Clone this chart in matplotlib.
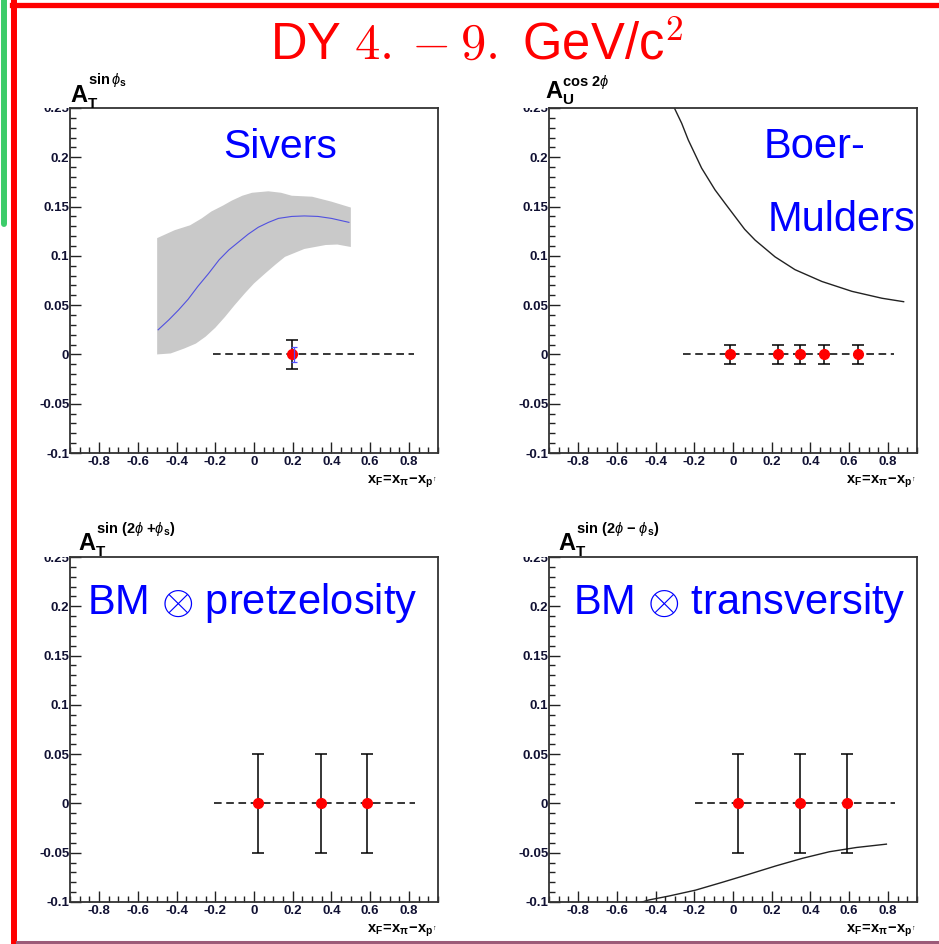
#!/usr/bin/env python3

import numpy as np
import matplotlib
matplotlib.use('Agg')
from matplotlib import pyplot as plt
from matplotlib.lines import Line2D
from matplotlib.ticker import MultipleLocator
from matplotlib.transforms import Bbox, TransformedBbox

plt.rcParams['font.family'] = ['Liberation Sans', 'DejaVu Sans']
plt.rcParams['mathtext.fontset'] = 'custom'
plt.rcParams['mathtext.rm'] = 'Liberation Sans'
plt.rcParams['mathtext.bf'] = 'Liberation Sans:bold'
plt.rcParams['mathtext.it'] = 'Liberation Sans:italic'
plt.rcParams['mathtext.sf'] = 'Liberation Sans'

W, H = 939, 944

XTICKS = [-0.8, -0.6, -0.4, -0.2, 0, 0.2, 0.4, 0.6, 0.8]
XTICK_LABELS = ['-0.8', '-0.6', '-0.4', '-0.2', '0', '0.2', '0.4', '0.6', '0.8']
YTICKS = [-0.1, -0.05, 0, 0.05, 0.1, 0.15, 0.2, 0.25]
YTICK_LABELS = ['-0.1', '-0.05', '0', '0.05', '0.1', '0.15', '0.2', '0.25']

# Sivers band (upper / lower edges) and central curve
SIVERS_HI_X = [-0.5, -0.41, -0.33, -0.27, -0.22, -0.16, -0.115, -0.06, -0.01, 0.074, 0.14, 0.195, 0.3, 0.4, 0.5]
SIVERS_HI_Y = [0.118, 0.126, 0.131, 0.138, 0.145, 0.151, 0.156, 0.161, 0.164, 0.1655, 0.164, 0.161, 0.160, 0.155, 0.149]
SIVERS_LO_X = [-0.5, -0.43, -0.36, -0.3, -0.25, -0.2, -0.15, -0.1, -0.047, 0.0, 0.057, 0.11, 0.16, 0.26, 0.37, 0.43, 0.5]
SIVERS_LO_Y = [0.0, 0.001, 0.006, 0.011, 0.018, 0.027, 0.038, 0.050, 0.062, 0.072, 0.082, 0.091, 0.099, 0.107, 0.111, 0.1115, 0.109]
SIVERS_FIT_X = [-0.495, -0.44, -0.39, -0.34, -0.29, -0.235, -0.18, -0.13, -0.08, -0.03, 0.022, 0.075, 0.126, 0.195, 0.26, 0.33, 0.4, 0.49]
SIVERS_FIT_Y = [0.025, 0.035, 0.045, 0.056, 0.069, 0.082, 0.096, 0.106, 0.114, 0.122, 0.129, 0.134, 0.138, 0.140, 0.1405, 0.140, 0.138, 0.134]
SIVERS_PT_X = [0.195]
SIVERS_PT_Y = [0.0]
SIVERS_PT_ERR = [0.015]
SIVERS_BLUE_X = [0.207]
SIVERS_BLUE_ERR = [0.008]
SIVERS_LINE = [-0.21, 0.824]

# Boer-Mulders curve and projected points
BM_X = [-0.31, -0.265, -0.231, -0.162, -0.093, -0.04, 0.01, 0.06, 0.114, 0.217, 0.32, 0.459, 0.614, 0.769, 0.881]
BM_Y = [0.253, 0.2345, 0.2176, 0.189, 0.167, 0.153, 0.14, 0.127, 0.116, 0.099, 0.086, 0.074, 0.064, 0.057, 0.0535]
BM_PT_X = [-0.014, 0.234, 0.348, 0.472, 0.643]
BM_PT_Y = [0.0, 0.0, 0.0, 0.0, 0.0]
BM_PT_ERR = [0.01, 0.01, 0.01, 0.01, 0.01]
BM_LINE = [-0.257, 0.829]

# BM x pretzelosity
PRETZ_PT_X = [0.022, 0.346, 0.585]
PRETZ_PT_Y = [0.0, 0.0, 0.0]
PRETZ_PT_ERR = [0.05, 0.05, 0.05]
PRETZ_LINE = [-0.207, 0.83]

# BM x transversity
TRANS_X = [-0.5, -0.436, -0.332, -0.194, -0.055, 0.083, 0.221, 0.36, 0.498, 0.637, 0.792]
TRANS_Y = [-0.102, -0.098, -0.094, -0.088, -0.080, -0.0718, -0.0634, -0.0556, -0.049, -0.0447, -0.0413]
TRANS_PT_X = [0.024, 0.348, 0.588]
TRANS_PT_Y = [0.0, 0.0, 0.0]
TRANS_PT_ERR = [0.05, 0.05, 0.05]
TRANS_LINE = [-0.197, 0.836]


def px(x, y):
  return x / W, 1.0 - y / H


def make_axes(fig, left, top, right, bottom):
  x0, y0 = px(left, bottom)
  x1, y1 = px(right, top)
  ax = fig.add_axes([x0, y0, x1 - x0, y1 - y0])
  ax.set_xlim(-0.95, 0.95)
  ax.set_ylim(-0.1, 0.25)
  ax.set_xticks(XTICKS)
  ax.set_xticklabels(XTICK_LABELS, fontweight='bold', fontsize=9.5, color='#111133')
  ax.set_yticks(YTICKS)
  ax.set_yticklabels(YTICK_LABELS, fontweight='bold', fontsize=9.5, color='#111133')
  ax.xaxis.set_minor_locator(MultipleLocator(0.05))
  ax.yaxis.set_minor_locator(MultipleLocator(0.01))
  ax.tick_params(which='both', direction='in', top=False, right=False, color='#222222')
  ax.tick_params(which='major', length=8, width=1.0)
  ax.tick_params(which='minor', length=4, width=1.0)
  ax.tick_params(axis='y', pad=0.5)
  ax.tick_params(axis='x', pad=2)
  for sp in ax.spines.values():
    sp.set_linewidth(1.3)
    sp.set_color('#333333')
  # ROOT clips the top label at the frame
  clip = TransformedBbox(Bbox([[-0.5, -0.5], [1.5, 1.0]]), ax.transAxes)
  for lab in ax.get_yticklabels():
    lab.set_clip_box(clip)
    lab.set_clip_on(True)
  ax.text(1.0, -0.06, r'$\mathbf{x_F\!=\!x_\pi\!-\!x_{p^\uparrow}}$', transform=ax.transAxes,
          ha='right', va='top', fontsize=10.5)
  return ax


def ylabel(fig, left, base, sup_base, sub, sup):
  fig.text(*px(left, base), 'A', fontsize=17, fontweight='bold', ha='left', va='baseline')
  fig.text(*px(left + 17.5, base + 6), sub, fontsize=11, fontweight='bold', ha='left', va='baseline')
  fig.text(*px(left + 17.5, sup_base), sup, fontsize=10.5, ha='left', va='baseline')


def points(ax, x, y, err, line):
  ax.plot(line, [0, 0], color='black', lw=1.1, ls=(0, (5, 3)), zorder=2)
  ax.errorbar(x, y, yerr=err, fmt='o', color='red', markersize=7, ecolor='black',
              elinewidth=1.1, capsize=4, capthick=1.1, zorder=3)


def main():
  fig = plt.figure(figsize=(W / 100, H / 100), dpi=100)

  # slide decorations
  fig.add_artist(Line2D([12 / W, 1], [1 - 4.5 / H] * 2, color='#ff0000', lw=3.8))
  fig.add_artist(Line2D([14 / W] * 2, [0, 1 - 2 / H], color='#ff0000', lw=4.3))
  fig.add_artist(Line2D([4 / W] * 2, [1 - 224 / H, 1], color='#3ccc6a', lw=4.3, solid_capstyle='round'))
  fig.add_artist(Line2D([17 / W, 1], [1 - 942 / H] * 2, color='#9c5a78', lw=2.2))

  tx, ty = px(477, 60)
  fig.text(tx, ty, r'DY $4.-9.$ GeV/c$^2$', color='#ff0000', fontsize=36.5,
           ha='center', va='baseline', math_fontfamily='cm')

  # Sivers
  ax1 = make_axes(fig, 70, 108, 438, 453)
  band_x = np.concatenate([SIVERS_HI_X, SIVERS_LO_X[::-1]])
  band_y = np.concatenate([SIVERS_HI_Y, SIVERS_LO_Y[::-1]])
  ax1.fill(band_x, band_y, color='#c9c9c9', lw=0, zorder=1)
  ax1.plot(SIVERS_FIT_X, SIVERS_FIT_Y, color='#5050e0', lw=0.8, zorder=2)
  points(ax1, SIVERS_PT_X, SIVERS_PT_Y, SIVERS_PT_ERR, SIVERS_LINE)
  ax1.errorbar(SIVERS_BLUE_X, SIVERS_PT_Y, yerr=SIVERS_BLUE_ERR, fmt='none', ecolor='#5050ff',
               elinewidth=0.9, capsize=2.5, capthick=0.9, zorder=4)
  ax1.text(0.571, 0.887, 'Sivers', transform=ax1.transAxes, color='#0000ff', fontsize=29.5,
           ha='center', va='center')
  ylabel(fig, 70, 102, 84, 'T', r'$\mathbf{sin}\,\phi_{\mathbf{s}}$')

  # Boer-Mulders
  ax2 = make_axes(fig, 549, 108, 917, 453)
  ax2.plot(BM_X, BM_Y, color='#222222', lw=1.0, zorder=2)
  points(ax2, BM_PT_X, BM_PT_Y, BM_PT_ERR, BM_LINE)
  ax2.text(0.582, 0.887, 'Boer-', transform=ax2.transAxes, color='#0000ff', fontsize=30,
           ha='left', va='center')
  ax2.text(0.595, 0.675, 'Mulders', transform=ax2.transAxes, color='#0000ff', fontsize=30,
           ha='left', va='center')
  ylabel(fig, 545, 98, 86, 'U', r'$\mathbf{cos\ 2}\phi$')

  # BM x pretzelosity
  ax3 = make_axes(fig, 70, 557, 438, 902)
  points(ax3, PRETZ_PT_X, PRETZ_PT_Y, PRETZ_PT_ERR, PRETZ_LINE)
  ax3.text(0.046, 0.867, r'BM $\otimes$ pretzelosity', transform=ax3.transAxes, color='#0000ff',
           fontsize=30, ha='left', va='center', math_fontfamily='cm')
  ylabel(fig, 78, 550, 533, 'T', r'$\mathbf{sin\ (2}\phi\ \mathbf{+}\phi_{\mathbf{s}}\mathbf{)}$')

  # BM x transversity
  ax4 = make_axes(fig, 549, 557, 917, 902)
  ax4.plot(TRANS_X, TRANS_Y, color='#222222', lw=1.0, zorder=2)
  points(ax4, TRANS_PT_X, TRANS_PT_Y, TRANS_PT_ERR, TRANS_LINE)
  ax4.text(0.065, 0.867, r'BM $\otimes$ transversity', transform=ax4.transAxes, color='#0000ff',
           fontsize=30, ha='left', va='center', math_fontfamily='cm')
  ylabel(fig, 558, 550, 533, 'T', r'$\mathbf{sin\ (2}\phi\ \mathbf{-}\ \phi_{\mathbf{s}}\mathbf{)}$')

  fig.savefig('out.png', dpi=100)
  plt.close()


if __name__ == "__main__":
  main()
